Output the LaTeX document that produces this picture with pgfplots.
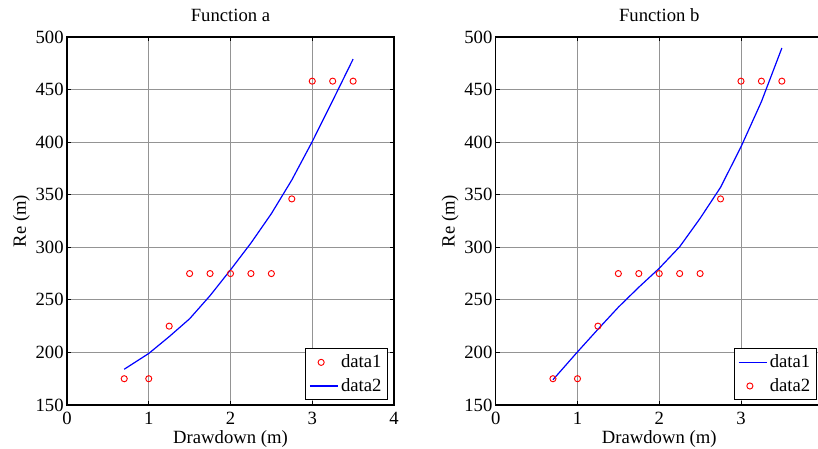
\documentclass[border=0pt]{standalone}
\usepackage{fontspec}
\setmainfont{Liberation Serif}
\usepackage{pgfplots}
\pgfplotsset{compat=1.18}

% MATLAB-like look shared by both subplots (1 px of the reference = 0.75pt)
\pgfplotsset{
  mlab/.style={
    scale only axis,
    width=245.25pt, height=276pt,
    xmin=0, xmax=4, ymin=150, ymax=500,
    xtick={0,1,2,3,4}, ytick={150,200,...,500},
    grid=major,
    grid style={line width=0.6pt, draw=black!42},
    axis line style={line width=0.8pt},
    tick align=inside, tick pos=both,
    major tick length=3pt,
    tick style={black, line width=0.6pt},
    /pgf/number format/assume math mode=true,
    ticklabel style={font=\fontsize{14}{16}\selectfont},
    xticklabel style={yshift=-2pt},
    yticklabel style={xshift=1pt},
    xlabel={Drawdown (m)},
    ylabel={Re (m)},
    xlabel style={yshift=3pt},
    ylabel style={yshift=-2.5pt},
    title style={yshift=2pt},
    legend style={at={(1,0)}, anchor=south east,
      xshift=-4.5pt, yshift=3.75pt,
      line width=0.8pt, fill=white,
      font=\fontsize{14}{16}\selectfont,
      inner xsep=2.5pt, inner ysep=2.5pt, row sep=2.5pt},
    legend cell align=left,
  },
  pts/.style={only marks, mark=o, color=red, mark size=2.3pt,
    mark options={line width=0.7pt}},
  crv/.style={color=blue, draw=blue, line width=0.9pt, no marks,
    legend image code/.code={\draw[##1] (0pt,0pt) -- (21pt,0pt);}},
}

\begin{document}
\begin{tikzpicture}[font=\fontsize{14}{16}\selectfont]

\begin{axis}[mlab, at={(50.25pt,33pt)}, anchor=south west, title={Function a}]
\addplot[pts] coordinates {
(0.7,175) (1.0,175) (1.25,225) (1.5,275) (1.75,275) (2.0,275)
(2.25,275) (2.5,275) (2.75,346) (3.0,458) (3.25,458) (3.5,458)
};
\addlegendentry{data1}
\addplot[crv] coordinates {
(0.7,184) (1.0,199) (1.25,215) (1.5,232) (1.75,254) (2.0,278.5)
(2.25,304) (2.5,332) (2.75,364) (3.0,400.5) (3.25,439.5) (3.5,479)
};
\addlegendentry{data2}
\end{axis}

\begin{axis}[mlab, at={(371.8pt,33pt)}, anchor=south west, title={Function b}]
\addplot[crv] coordinates {
(0.7,174) (1.0,200.5) (1.25,222) (1.5,243) (1.75,262) (2.0,280)
(2.25,300.5) (2.5,327.5) (2.75,357) (3.0,395.5) (3.25,438.5) (3.5,489.5)
};
\addlegendentry{data1}
\addplot[pts] coordinates {
(0.7,175) (1.0,175) (1.25,225) (1.5,275) (1.75,275) (2.0,275)
(2.25,275) (2.5,275) (2.75,346) (3.0,458) (3.25,458) (3.5,458)
};
\addlegendentry{data2}
\end{axis}

\pgfresetboundingbox
\clip (0pt,0pt) rectangle (613.5pt,336.75pt);
\path (0pt,0pt) rectangle (613.5pt,336.75pt);
\end{tikzpicture}
\end{document}
